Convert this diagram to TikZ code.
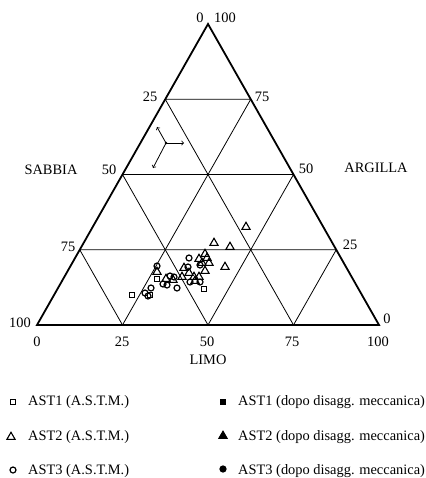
\documentclass[tikz,border=0pt]{standalone}
\usepackage{fontspec}
\setmainfont{Liberation Serif}
\usetikzlibrary{calc,shapes.geometric}
\tikzset{
  lbl/.style={font=\fontsize{14.4}{16}\selectfont,inner sep=1pt},
  osq/.style={draw,line width=1.2pt,rectangle,minimum size=5.5pt,inner sep=0pt},
  otri/.style={draw,line width=1.1pt,regular polygon,regular polygon sides=3,minimum size=9.5pt,inner sep=0pt},
  ocirc/.style={draw,line width=1.2pt,circle,minimum size=6pt,inner sep=0pt},
  fsq/.style={osq,fill},
  ftri/.style={otri,fill},
  fcirc/.style={ocirc,fill}
}
\begin{document}
\begin{tikzpicture}[x=1pt,y=-1pt]
\useasboundingbox (0,0) rectangle (425,478);
\coordinate (A) at (208,24);
\coordinate (L) at (37,325);
\coordinate (R) at (379,325);
\foreach \i in {1,2,3} {
  \coordinate (l\i) at ($(A)!\i/4!(L)$);
  \coordinate (r\i) at ($(A)!\i/4!(R)$);
  \coordinate (b\i) at ($(L)!\i/4!(R)$);
}
\foreach \i/\j in {1/3,2/2,3/1}
  \draw [line width=0.8pt] (l\i) -- (r\i) (l\i) -- (b\j) (r\i) -- (b\i);
\draw [line width=1.8pt] (A) -- (L) -- (R) -- cycle;

\node [lbl] (sa0)   at (200,18)  {0};
\node [lbl] (ar100) at (225,18)  {100};
\node [lbl] (sa25)  at (150,97)  {25};
\node [lbl] (ar75)  at (262,97)  {75};
\node [lbl] (sabbia) at (51,170) {SABBIA};
\node [lbl] (sa50)  at (109,170) {50};
\node [lbl] (ar50)  at (306,169) {50};
\node [lbl] (argilla) at (376,168) {ARGILLA};
\node [lbl] (sa75)  at (68,247)  {75};
\node [lbl] (ar25)  at (350,245) {25};
\node [lbl] (sa100) at (20,323)  {100};
\node [lbl] (ar0)   at (387,319) {0};
\foreach \v/\x in {0/37,25/122,50/207,75/292,100/378}
  \node [lbl] (li\v) at (\x,342) {\v};
\node [lbl] (limo) at (208,360) {LIMO};

\coordinate (o) at (166,143);
\coordinate (d1) at (184,143);
\coordinate (d2) at (157,127);
\coordinate (d3) at (153,168);
\fill (o) circle (1.4);
\draw [->,line width=0.8pt] (o) -- (d1);
\draw [->,line width=0.8pt] (o) -- (d2);
\draw [->,line width=0.8pt] (o) -- (d3);

\foreach \x/\y [count=\i] in {132/295,150/295,157/279,204/289}
  \node [osq] (sq\i) at (\x,\y) {};
\foreach \x/\y [count=\i] in {246/227,214/243,230/247,199/259,205/254,207/258,
    209/263,202/263,225/267,184/268,205/271,189/273,194/277,199/277,195/281,
    182/277,157/272,173/280,166/279}
  \node [otri] (tr\i) at (\x,\y) {};
\foreach \x/\y [count=\i] in {189/258,188/267,200/265,190/282,200/282,157/266,
    170/276,174/277,163/284,167/285,177/288,151/288,145/293,148/296}
  \node [ocirc] (ci\i) at (\x,\y) {};

\node [osq]   (k1) at (13,402) {};
\node [otri]  (k2) at (11,437) {};
\node [ocirc] (k3) at (13,470) {};
\node [fsq]   (k4) at (223,402) {};
\node [ftri]  (k5) at (223,436) {};
\node [fcirc] (k6) at (223,469) {};
\node [lbl,anchor=west] (t1) at (27,402) {AST1 (A.S.T.M.)};
\node [lbl,anchor=west] (t2) at (27,437) {AST2 (A.S.T.M.)};
\node [lbl,anchor=west] (t3) at (27,471) {AST3 (A.S.T.M.)};
\node [lbl,anchor=west] (t4) at (237,402) {AST1 (dopo disagg. meccanica)};
\node [lbl,anchor=west] (t5) at (237,437) {AST2 (dopo disagg. meccanica)};
\node [lbl,anchor=west] (t6) at (237,471) {AST3 (dopo disagg. meccanica)};
\end{tikzpicture}
\end{document}
